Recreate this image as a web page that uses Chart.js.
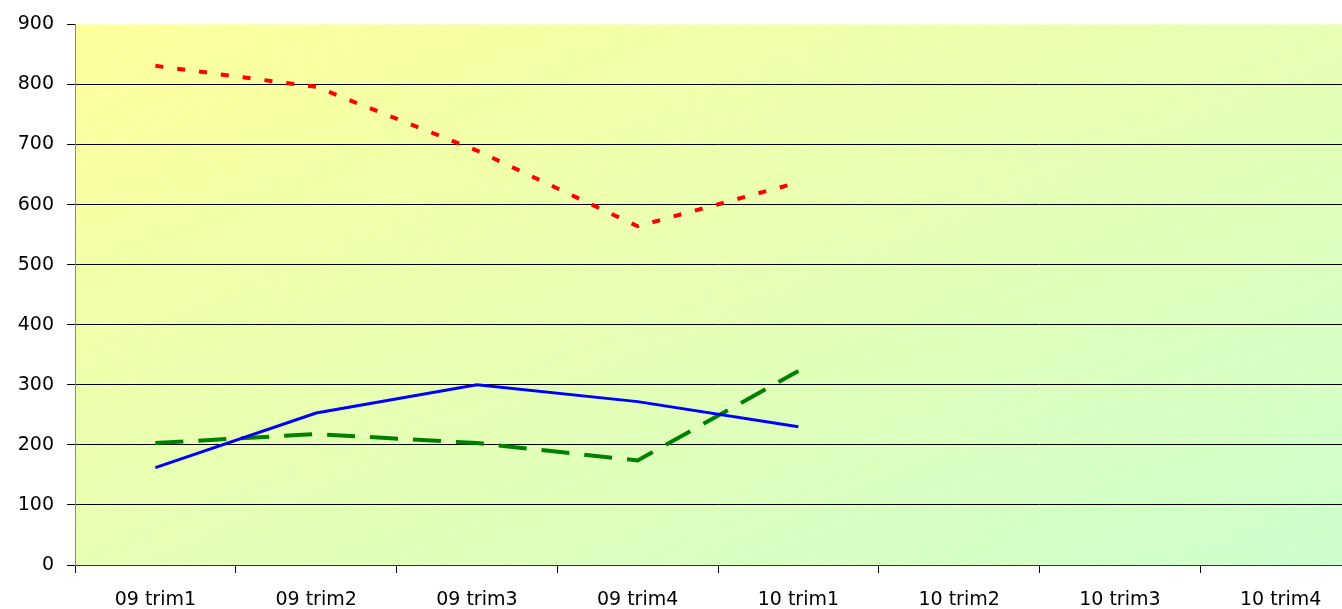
<!DOCTYPE html>
<html>
<head>
<meta charset="utf-8">
<script src="https://cdn.jsdelivr.net/npm/chart.js@4/dist/chart.umd.min.js"></script>
<style>
  html, body { margin: 0; padding: 0; background: #fff; overflow: hidden; }
  canvas { display: block; }
</style>
</head>
<body>
<canvas id="lineChart" width="1361" height="609"></canvas>
<script>
// categorias (trimestres)
const categories = ['09 trim1', '09 trim2', '09 trim3', '09 trim4', '10 trim1', '10 trim2', '10 trim3', '10 trim4'];
// series
const redValues = [831, 796, 690, 564, 637];
const blueValues = [162, 253, 300, 272, 230];
const greenValues = [203, 218, 203, 174, 323];
const yTicks = [0, 100, 200, 300, 400, 500, 600, 700, 800, 900];

const chartFont = { family: 'DejaVu Sans', size: 19 };

// fondo degradado del area de trazado
const backgroundPlugin = {
    id: 'plotBackground',
    beforeDraw(chart) {
        let a = chart.chartArea;
        let c = chart.ctx;
        c.save();
        c.translate(a.left, a.top);
        c.scale(a.right - a.left, a.bottom - a.top);
        let g = c.createLinearGradient(0, 0, 1, 1);
        g.addColorStop(0, '#FFFF99');
        g.addColorStop(1, '#CCFFCC');
        c.fillStyle = g;
        c.fillRect(0, 0, 1, 1);
        c.restore();

        // textura de lineas diagonales muy suaves
        c.save();
        c.beginPath();
        c.rect(a.left, a.top, a.right - a.left, a.bottom - a.top);
        c.clip();
        c.strokeStyle = 'rgba(255,255,255,0.18)';
        c.lineWidth = 1;
        for (let x = a.left - 1800; x < a.right + 600; x += 22) {
            c.beginPath();
            c.moveTo(x, a.bottom);
            c.lineTo(x + 1800, a.bottom - 600);
            c.stroke();
        }
        c.restore();
    }
};

let ctx = document.getElementById('lineChart').getContext('2d');

let chart = new Chart(ctx, {
    type: 'line',
    plugins: [backgroundPlugin],
    data: {
        labels: categories,
        datasets: [{
            label: 'rojo',
            data: redValues,
            borderColor: '#FF0000',
            borderWidth: 4,
            borderDash: [8, 14],
            borderCapStyle: 'butt'
        }, {
            label: 'azul',
            data: blueValues,
            borderColor: '#0000FF',
            borderWidth: 3
        }, {
            label: 'verde',
            data: greenValues,
            borderColor: '#008000',
            borderWidth: 4,
            borderDash: [28, 15]
        }]
    },
    options: {
        responsive: false,
        animation: false,
        layout: { padding: { top: 23, left: 0, right: 0, bottom: 0 } },
        elements: {
            point: { radius: 0 },
            line: { tension: 0, fill: false }
        },
        plugins: {
            legend: { display: false },
            tooltip: { enabled: false }
        },
        scales: {
            x: {
                offset: true,
                afterFit: (s) => { s.height = 44; },
                grid: {
                    offset: true,
                    drawOnChartArea: false,
                    drawTicks: true,
                    tickLength: 8,
                    tickColor: '#000'
                },
                border: { display: true, color: '#333', width: 1 },
                ticks: {
                    color: '#000',
                    font: chartFont,
                    padding: 16,
                    maxRotation: 0,
                    autoSkip: false
                }
            },
            y: {
                min: 0,
                max: 900,
                afterFit: (s) => { s.width = 75; },
                afterBuildTicks: (s) => { s.ticks = yTicks.map(v => ({ value: v })); },
                grid: {
                    color: (c) => (c.tick && c.tick.value === 900) ? 'rgba(0,0,0,0)' : '#000',
                    lineWidth: 1,
                    tickLength: 8,
                    tickColor: '#000'
                },
                border: { display: true, color: '#888', width: 1 },
                ticks: {
                    color: '#000',
                    font: chartFont,
                    padding: 13,
                    stepSize: 100
                }
            }
        }
    }
});
</script>
</body>
</html>
